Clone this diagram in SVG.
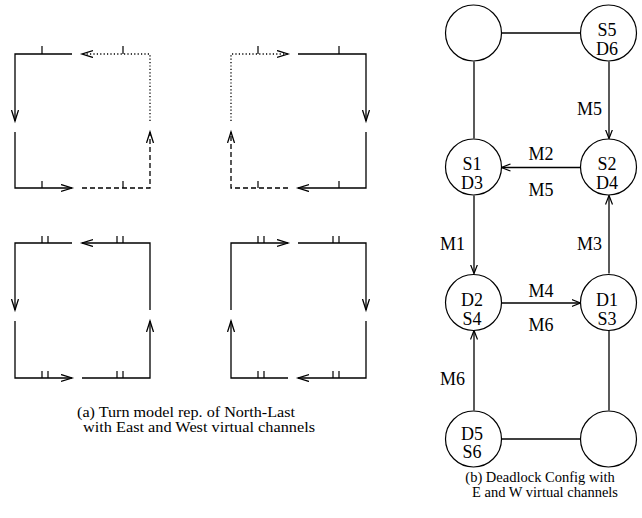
<svg xmlns="http://www.w3.org/2000/svg" width="642" height="518" viewBox="0 0 642 518">
  <style>
    .ln { fill: none; stroke: #000; stroke-width: 1.3; }
    .dot { stroke-dasharray: 1.2 2.2; }
    .dash { stroke-dasharray: 5 3; }
    .tk { stroke: #000; stroke-width: 1.2; fill: none; }
    .nd { fill: #fff; stroke: #000; stroke-width: 1.2; }
    .lbl { font-family: "Liberation Serif", "Times New Roman", serif; font-size: 18px; fill: #000; }
    .cap { font-family: "Liberation Serif", "Times New Roman", serif; font-size: 14.5px; fill: #000; }
  </style>
  <defs>
    <marker id="ah" markerUnits="userSpaceOnUse" markerWidth="14" markerHeight="10" refX="11" refY="4" orient="auto">
      <path d="M0,0.5 L11,4 L0,7.5" fill="none" stroke="#000" stroke-width="1.3"/>
    </marker>
    <marker id="ah2" markerUnits="userSpaceOnUse" markerWidth="12" markerHeight="10" refX="9" refY="4" orient="auto">
      <path d="M0,0.5 L9,4 L0,7.5" fill="none" stroke="#000" stroke-width="1.2"/>
    </marker>
  </defs>

  <!-- (a) turn model squares -->
  <g id="square-top-left">
    <path class="ln" d="M72,54 H15 V121" marker-end="url(#ah)"/>
    <path class="ln" d="M15,132 V188 H72" marker-end="url(#ah)"/>
    <path class="ln dash" d="M82,188 H150 V132" marker-end="url(#ah)"/>
    <path class="ln dot" d="M150,121 V54 H82" marker-end="url(#ah)"/>
    <path class="tk" d="M42,54 V46 M123,54 V46 M42,188 V181 M123,188 V181"/>
  </g>
  <g id="square-top-right">
    <path class="ln dot" d="M231,121 V54 H288" marker-end="url(#ah)"/>
    <path class="ln" d="M298,54 H366 V121" marker-end="url(#ah)"/>
    <path class="ln" d="M366,132 V188 H298" marker-end="url(#ah)"/>
    <path class="ln dash" d="M288,188 H231 V132" marker-end="url(#ah)"/>
    <path class="tk" d="M258,54 V46 M339,54 V46 M258,188 V181 M339,188 V181"/>
  </g>
  <g id="square-bottom-left">
    <path class="ln" d="M72,243 H15 V310" marker-end="url(#ah)"/>
    <path class="ln" d="M15,321 V378 H72" marker-end="url(#ah)"/>
    <path class="ln" d="M82,378 H150 V321" marker-end="url(#ah)"/>
    <path class="ln" d="M150,310 V243 H82" marker-end="url(#ah)"/>
    <path class="tk" d="M42,243 V236 M48,243 V236 M117,243 V236 M123,243 V236 M42,378 V371 M48,378 V371 M117,378 V371 M123,378 V371"/>
  </g>
  <g id="square-bottom-right">
    <path class="ln" d="M231,310 V243 H288" marker-end="url(#ah)"/>
    <path class="ln" d="M298,243 H366 V310" marker-end="url(#ah)"/>
    <path class="ln" d="M366,321 V378 H298" marker-end="url(#ah)"/>
    <path class="ln" d="M288,378 H231 V321" marker-end="url(#ah)"/>
    <path class="tk" d="M258,243 V236 M264,243 V236 M333,243 V236 M339,243 V236 M258,378 V371 M264,378 V371 M333,378 V371 M339,378 V371"/>
  </g>
  <text class="cap" x="77" y="417" textLength="218" lengthAdjust="spacingAndGlyphs">(a) Turn model rep. of North-Last</text>
  <text class="cap" x="83" y="432" textLength="232" lengthAdjust="spacingAndGlyphs">with East and West virtual channels</text>

  <!-- (b) deadlock configuration -->
  <g id="connectors">
    <path class="ln" d="M501.5,33 H580.5"/>
    <path class="ln" d="M474,61.5 V138.5"/>
    <path class="ln" d="M609,61.5 V138.5" marker-end="url(#ah2)"/>
    <path class="ln" d="M580.5,167.5 H501.5" marker-end="url(#ah2)"/>
    <path class="ln" d="M474,195.5 V273.5" marker-end="url(#ah2)"/>
    <path class="ln" d="M501.5,303 H580.5" marker-end="url(#ah2)"/>
    <path class="ln" d="M609,273.5 V195.5" marker-end="url(#ah2)"/>
    <path class="ln" d="M474,410.5 V330.5" marker-end="url(#ah2)"/>
    <path class="ln" d="M609,330.5 V410.5"/>
    <path class="ln" d="M501.5,439 H580.5"/>
  </g>
  <g id="node-nw"><circle class="nd" cx="473.5" cy="33" r="28"/></g>
  <g id="node-s5d6"><circle class="nd" cx="608.5" cy="33" r="28"/>
    <text class="lbl" x="607" y="35.5" text-anchor="middle">S5</text>
    <text class="lbl" x="607" y="54.5" text-anchor="middle">D6</text></g>
  <g id="node-s1d3"><circle class="nd" cx="473.5" cy="167" r="28"/>
    <text class="lbl" x="472" y="170" text-anchor="middle">S1</text>
    <text class="lbl" x="472" y="189" text-anchor="middle">D3</text></g>
  <g id="node-s2d4"><circle class="nd" cx="608.5" cy="167" r="28"/>
    <text class="lbl" x="607" y="170" text-anchor="middle">S2</text>
    <text class="lbl" x="607" y="189" text-anchor="middle">D4</text></g>
  <g id="node-d2s4"><circle class="nd" cx="473.5" cy="302.5" r="28"/>
    <text class="lbl" x="472" y="305.5" text-anchor="middle">D2</text>
    <text class="lbl" x="472" y="324.5" text-anchor="middle">S4</text></g>
  <g id="node-d1s3"><circle class="nd" cx="608.5" cy="302.5" r="28"/>
    <text class="lbl" x="607" y="305.5" text-anchor="middle">D1</text>
    <text class="lbl" x="607" y="324.5" text-anchor="middle">S3</text></g>
  <g id="node-d5s6"><circle class="nd" cx="473.5" cy="439" r="28"/>
    <text class="lbl" x="472" y="439.5" text-anchor="middle">D5</text>
    <text class="lbl" x="472" y="458" text-anchor="middle">S6</text></g>
  <g id="node-se"><circle class="nd" cx="608.5" cy="439" r="28"/></g>

  <g id="labels">
    <text class="lbl" x="602" y="115" text-anchor="end">M5</text>
    <text class="lbl" x="541" y="160" text-anchor="middle">M2</text>
    <text class="lbl" x="541" y="195.5" text-anchor="middle">M5</text>
    <text class="lbl" x="440" y="250">M1</text>
    <text class="lbl" x="602" y="250" text-anchor="end">M3</text>
    <text class="lbl" x="541" y="296.5" text-anchor="middle">M4</text>
    <text class="lbl" x="541" y="330.5" text-anchor="middle">M6</text>
    <text class="lbl" x="440" y="385">M6</text>
  </g>
  <text class="cap" x="540" y="482" text-anchor="middle">(b) Deadlock Config with</text>
  <text class="cap" x="545" y="497" text-anchor="middle">E and W virtual channels</text>
</svg>
